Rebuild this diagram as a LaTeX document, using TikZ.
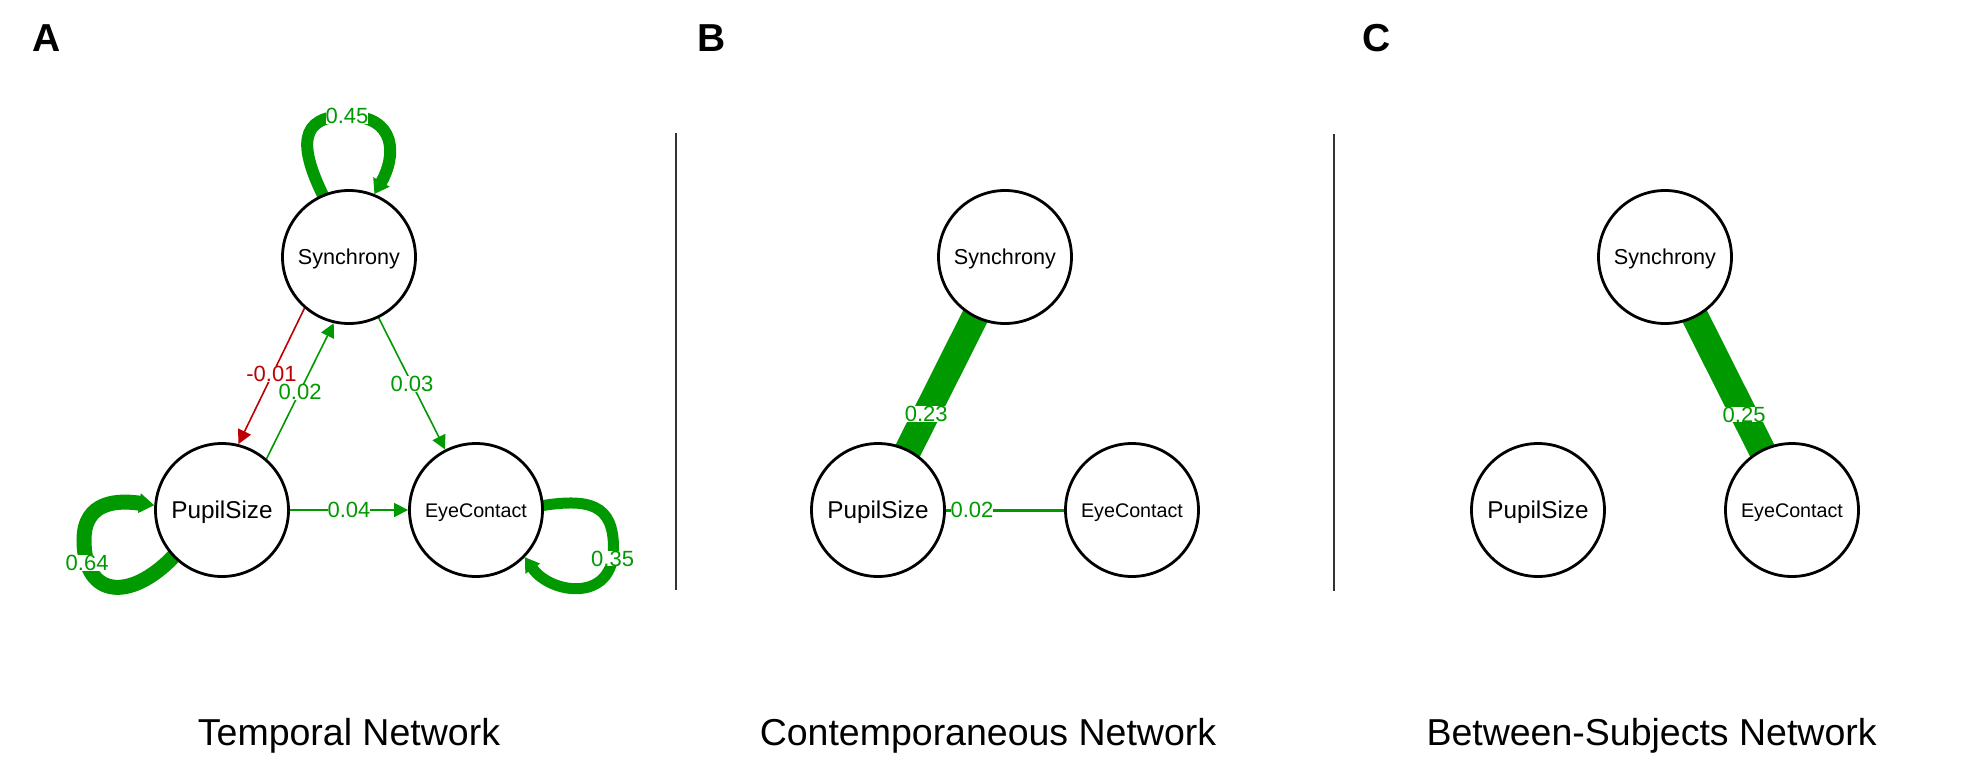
\documentclass[tikz,border=0pt]{standalone}
\usepackage{fontspec}
\setmainfont{Liberation Sans}
\usetikzlibrary{arrows.meta}
\definecolor{posc}{HTML}{009900}
\definecolor{negc}{HTML}{BF0000}
\definecolor{sepc}{HTML}{333333}
\pgfdeclarelayer{bg}
\pgfsetlayers{bg,main}
\begin{document}
\begin{tikzpicture}[x=0.5pt,y=-0.5pt,
  var/.style={circle, draw=black, line width=1.4pt, fill=white, minimum size=66.5pt, inner sep=0pt, text depth=0pt},
  synv/.style={var, font=\fontsize{10.8}{12}\selectfont, text height=7.73pt},
  pupv/.style={var, font=\fontsize{12.15}{14}\selectfont, text height=8.7pt},
  eyev/.style={var, font=\fontsize{9.85}{12}\selectfont, text height=7.05pt},
  lbl/.style={font=\fontsize{11}{12}\selectfont, fill=white, inner sep=0pt, text=posc},
  thinedge/.style={line width=0.8pt, -{Triangle[length=7pt,width=7pt]}},
  title/.style={font=\fontsize{18.75}{20}\selectfont, anchor=base},
  panel/.style={font=\bfseries\fontsize{19.5}{21}\selectfont, anchor=base west},
  sepline/.style={line width=1.25pt, draw=sepc}
]
\useasboundingbox (0,0) rectangle (1983,777);

% panel letters and titles
\node[panel] (lA) at (25,51.7) {A};
\node[panel] (lB) at (690,51.7) {B};
\node[panel] (lC) at (1355,51.7) {C};
\node[title] (tA) at (349,745) {Temporal Network};
\node[title] (tB) at (988,745) {Contemporaneous Network};
\node[title] (tC) at (1651.6,745) {Between-Subjects Network};

% separators
\coordinate (s1a) at (676,133); \coordinate (s1b) at (676,590);
\coordinate (s2a) at (1334,134); \coordinate (s2b) at (1334,591);
\draw[sepline] (s1a) -- (s1b);
\draw[sepline] (s2a) -- (s2b);

% nodes
\node[synv] (SynA) at (349,257) {Synchrony};
\node[pupv] (PupA) at (222,510) {PupilSize};
\node[eyev] (EyeA) at (476,510) {EyeContact};
\node[synv] (SynB) at (1005,257) {Synchrony};
\node[pupv] (PupB) at (878,510) {PupilSize};
\node[eyev] (EyeB) at (1132,510) {EyeContact};
\node[synv] (SynC) at (1665,257) {Synchrony};
\node[pupv] (PupC) at (1538,510) {PupilSize};
\node[eyev] (EyeC) at (1792,510) {EyeContact};

\coordinate (ltA) at (347,116);
\coordinate (lpA) at (84,540);
\coordinate (leA) at (613.5,548);

\begin{pgfonlayer}{bg}
% panel A
\draw[thinedge, negc] (SynA.229) -- node[lbl, text=negc, yshift=1pt] {-0.01} (PupA.76);
\draw[thinedge, posc] (PupA.49) -- node[lbl, yshift=-0.5pt] {0.02} (SynA.257);
\draw[thinedge, posc] (SynA.296) -- node[lbl] {0.03} (EyeA.117);
\draw[thinedge, posc] (PupA) -- node[lbl] {0.04} (EyeA);
\draw[posc, line width=6pt, shorten <=-4pt, -{Triangle[length=7pt,width=9pt]}]
  (SynA.113) .. controls +(-25,-49) and +(-48,0) .. (ltA) node[lbl] {0.45}
  .. controls +(50,0) and +(22,-38) .. (SynA.68);
\draw[posc, line width=7.5pt, shorten <=-4pt, -{Triangle[length=7.5pt,width=9.5pt]}]
  (PupA.224) .. controls +(-40,45) and +(0,60) .. (lpA) node[lbl, pos=0.85] {0.64}
  .. controls +(0,-40) and +(-35,-5) .. (PupA.176);
\draw[posc, line width=5.5pt, shorten <=-4pt, -{Triangle[length=7pt,width=8.5pt]}]
  (EyeA.4) .. controls +(47,-8.3) and +(0,-43) .. (leA)
  .. controls +(0,55) and +(25.7,37.3) .. (EyeA.316) node[lbl, pos=0.07] {0.35};
% panel B
\draw[posc, line width=13.5pt] (SynB.center) -- node[lbl, pos=0.62] {0.23} (PupB.center);
\draw[posc, line width=1.5pt] (PupB.center) -- node[lbl, pos=0.37] {0.02} (EyeB.center);
% panel C
\draw[posc, line width=13.5pt] (SynC.center) -- node[lbl, pos=0.623] {0.25} (EyeC.center);
\end{pgfonlayer}
\end{tikzpicture}
\end{document}
